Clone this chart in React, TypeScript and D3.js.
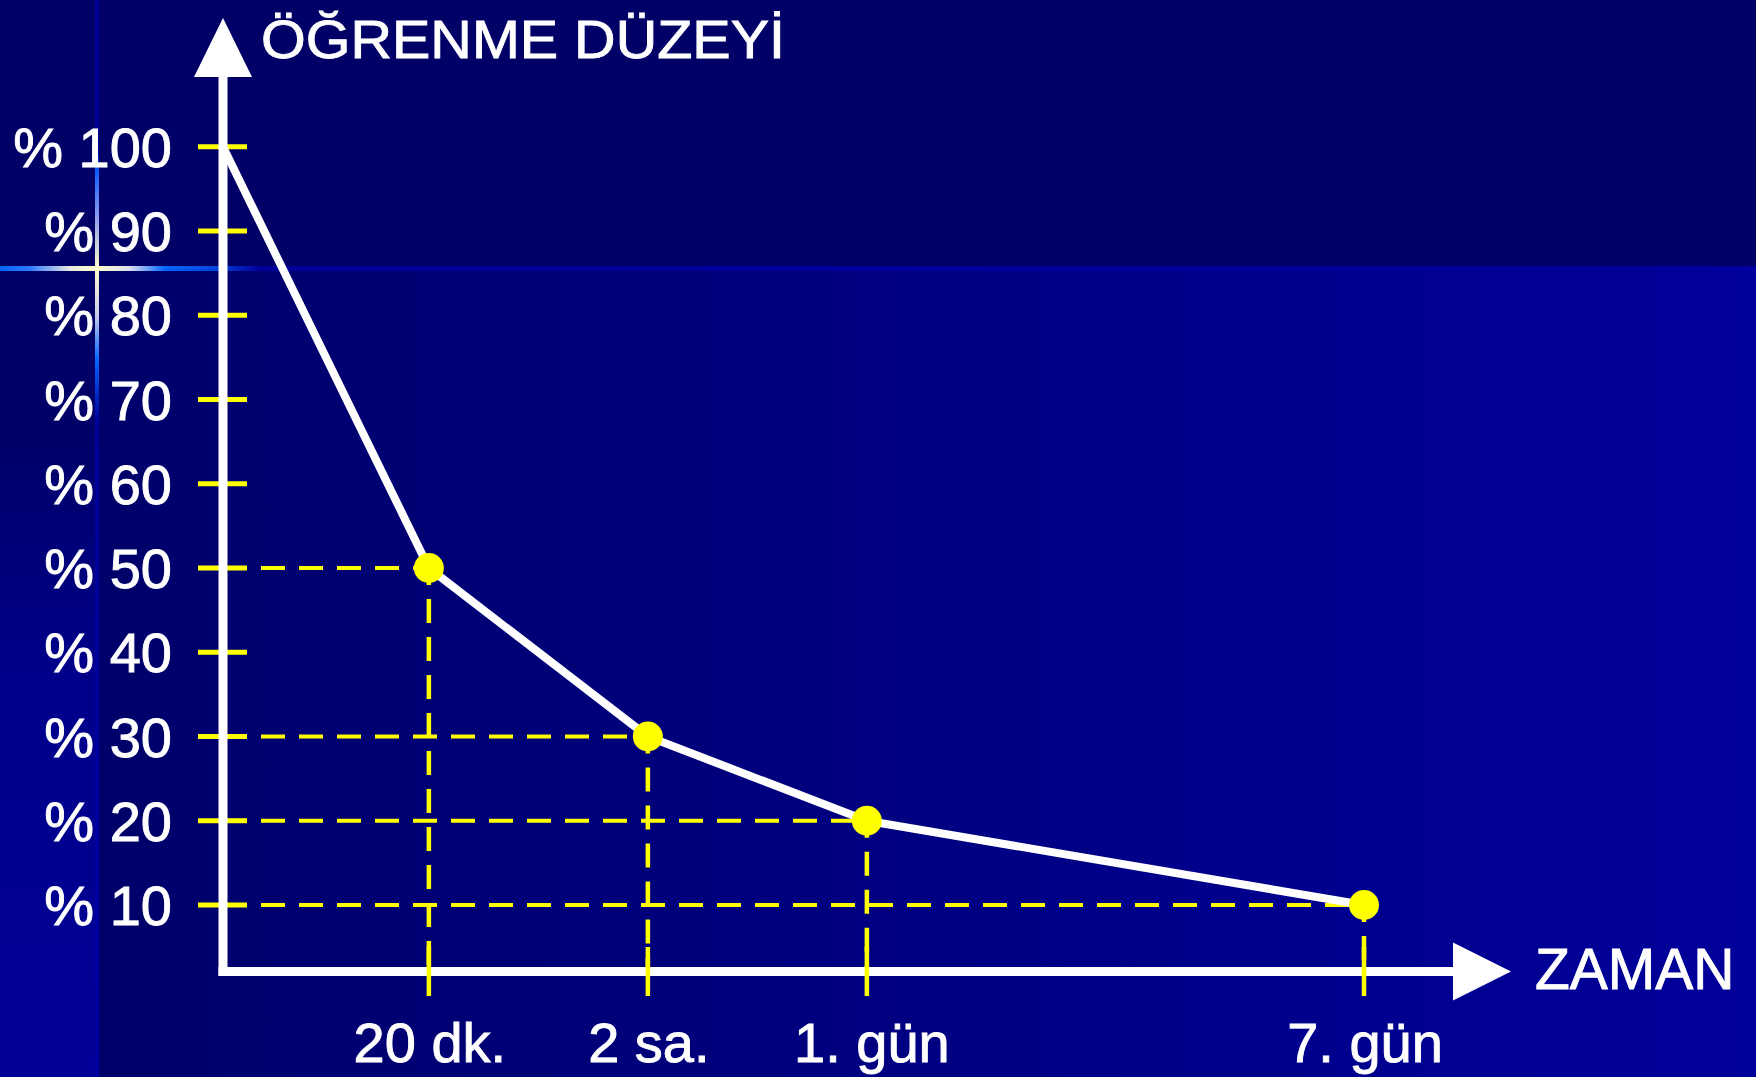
import React from "react";
import * as d3 from "d3";

const W = 1756;
const H = 1077;

// data
const yTickValues = [10, 20, 30, 40, 50, 60, 70, 80, 90, 100];
const categories = ["20 dk.", "2 sa.", "1. gün", "7. gün"];
const categoryPositions = [0.94, 1.94, 2.94, 5.21];
const learningValues = [50, 30, 20, 10];
const startValue = 100;
const startPosition = 0;
const yTitle = "ÖĞRENME DÜZEYİ";
const xTitle = "ZAMAN";

const FONT = "'Liberation Sans', Arial, Helvetica, sans-serif";

export default function App() {
  const axisX = 223;
  const axisY = 971.5;
  const x = d3.scaleLinear().domain([0, 1]).range([axisX, axisX + 219]);
  const y = d3.scaleLinear().domain([50, 10]).range([568, 905]);

  const pts: [number, number][] = [[startPosition, startValue]].concat(
    categoryPositions.map((p, i) => [p, learningValues[i]] as [number, number])
  ) as [number, number][];
  const line = d3
    .line<[number, number]>()
    .x((d) => x(d[0]))
    .y((d) => y(d[1]));

  const yellow = "#ffff00";
  const textStyle = { stroke: "#fff", strokeWidth: 0.9, paintOrder: "stroke" } as React.CSSProperties;

  return (
    <svg
      width={W}
      height={H}
      viewBox={`0 0 ${W} ${H}`}
      style={{ position: "fixed", left: 0, top: 0, display: "block" }}
    >
      <defs>
        <linearGradient id="bgBottom" gradientUnits="userSpaceOnUse" x1={96} y1={0} x2={W} y2={0}>
          <stop offset="0" stopColor="#00006a" />
          <stop offset="1" stopColor="#00009a" />
        </linearGradient>
        <linearGradient id="leftStrip" gradientUnits="userSpaceOnUse" x1={0} y1={270} x2={0} y2={H}>
          <stop offset="0" stopColor="#000066" />
          <stop offset="0.2" stopColor="#000068" />
          <stop offset="0.5" stopColor="#00008a" />
          <stop offset="1" stopColor="#000096" />
        </linearGradient>
        <linearGradient id="hGlow" gradientUnits="userSpaceOnUse" x1={0} y1={0} x2={W} y2={0}>
          <stop offset={0 / W} stopColor="#0066ff" />
          <stop offset={30 / W} stopColor="#2f7aff" />
          <stop offset={70 / W} stopColor="#e8e8e0" />
          <stop offset={97 / W} stopColor="#ffffcc" />
          <stop offset={130 / W} stopColor="#dcdcee" />
          <stop offset={165 / W} stopColor="#0066ff" />
          <stop offset={215 / W} stopColor="#0044dd" />
          <stop offset={260 / W} stopColor="#000099" />
          <stop offset="1" stopColor="#00009c" />
        </linearGradient>
        <linearGradient id="vGlow" gradientUnits="userSpaceOnUse" x1={0} y1={0} x2={0} y2={H}>
          <stop offset={0 / H} stopColor="#000099" />
          <stop offset={150 / H} stopColor="#000099" />
          <stop offset={166 / H} stopColor="#0055ff" />
          <stop offset={215 / H} stopColor="#8899ee" />
          <stop offset={268 / H} stopColor="#ffffcc" />
          <stop offset={315 / H} stopColor="#ccccee" />
          <stop offset={360 / H} stopColor="#0066ff" />
          <stop offset={420 / H} stopColor="#000099" />
          <stop offset="1" stopColor="#0000a2" />
        </linearGradient>
      </defs>

      {/* background */}
      <rect x={0} y={0} width={W} height={H} fill="#000066" />
      <rect x={96} y={270} width={W - 96} height={H - 270} fill="url(#bgBottom)" />
      <rect x={0} y={270} width={96} height={H - 270} fill="url(#leftStrip)" />
      <rect x={95} y={0} width={4} height={H} fill="url(#vGlow)" />
      <rect x={0} y={266} width={W} height={5} fill="url(#hGlow)" />

      {/* dashed guides */}
      {categories.map((c, i) => {
        const px = x(categoryPositions[i]);
        const py = y(learningValues[i]);
        return (
          <g key={"g" + c} stroke={yellow} fill="none">
            <line x1={axisX} x2={px} y1={py} y2={py} strokeWidth={4} strokeDasharray="24 14" />
            <line
              x1={px}
              x2={px}
              y1={py}
              y2={axisY}
              strokeWidth={4.5}
              strokeDasharray="24 14"
              strokeDashoffset={7}
            />
          </g>
        );
      })}

      {/* y ticks */}
      {yTickValues.map((v) => (
        <line key={"t" + v} x1={198} x2={247} y1={y(v)} y2={y(v)} stroke={yellow} strokeWidth={5} />
      ))}

      {/* axes */}
      <line x1={axisX} x2={axisX} y1={70} y2={axisY + 4.5} stroke="#fff" strokeWidth={9} />
      <polygon points={`${axisX},18 ${axisX - 29},77 ${axisX + 29},77`} fill="#fff" />
      <line x1={axisX - 4.5} x2={1460} y1={axisY} y2={axisY} stroke="#fff" strokeWidth={9} />
      <polygon
        points={`1511,${axisY} 1453,${axisY - 29} 1453,${axisY + 29}`}
        fill="#fff"
      />

      {/* x ticks */}
      {categoryPositions.map((p, i) => (
        <line
          key={"xt" + i}
          x1={x(p)}
          x2={x(p)}
          y1={947}
          y2={996}
          stroke={yellow}
          strokeWidth={4.5}
        />
      ))}

      {/* y tick labels */}
      {yTickValues.map((v) => (
        <text
          key={"l" + v}
          x={172}
          y={y(v) + 20}
          textAnchor="end"
          fill="#fff"
          fontFamily={FONT}
          fontSize={56}
          style={textStyle}
        >
          {"% " + v}
        </text>
      ))}

      {/* curve */}
      <path
        d={line(pts) || ""}
        fill="none"
        stroke="#fff"
        strokeWidth={8}
        strokeLinejoin="round"
      />

      {/* points */}
      {categoryPositions.map((p, i) => (
        <circle key={"c" + i} cx={x(p)} cy={y(learningValues[i])} r={15} fill={yellow} />
      ))}

      {/* x labels */}
      {categories.map((c, i) => (
        <text
          key={"xl" + c}
          x={x(categoryPositions[i]) + (i === 2 ? 5 : 1)}
          y={1062}
          textAnchor="middle"
          fill="#fff"
          fontFamily={FONT}
          fontSize={56}
          style={textStyle}
        >
          {c}
        </text>
      ))}

      {/* titles */}
      <text
        x={261}
        y={58}
        fill="#fff"
        fontFamily={FONT}
        fontSize={54}
        textLength={524}
        lengthAdjust="spacingAndGlyphs"
        style={textStyle}
      >
        {yTitle}
      </text>
      <text x={1535} y={989} fill="#fff" fontFamily={FONT} fontSize={57} style={textStyle}>
        {xTitle}
      </text>
    </svg>
  );
}
